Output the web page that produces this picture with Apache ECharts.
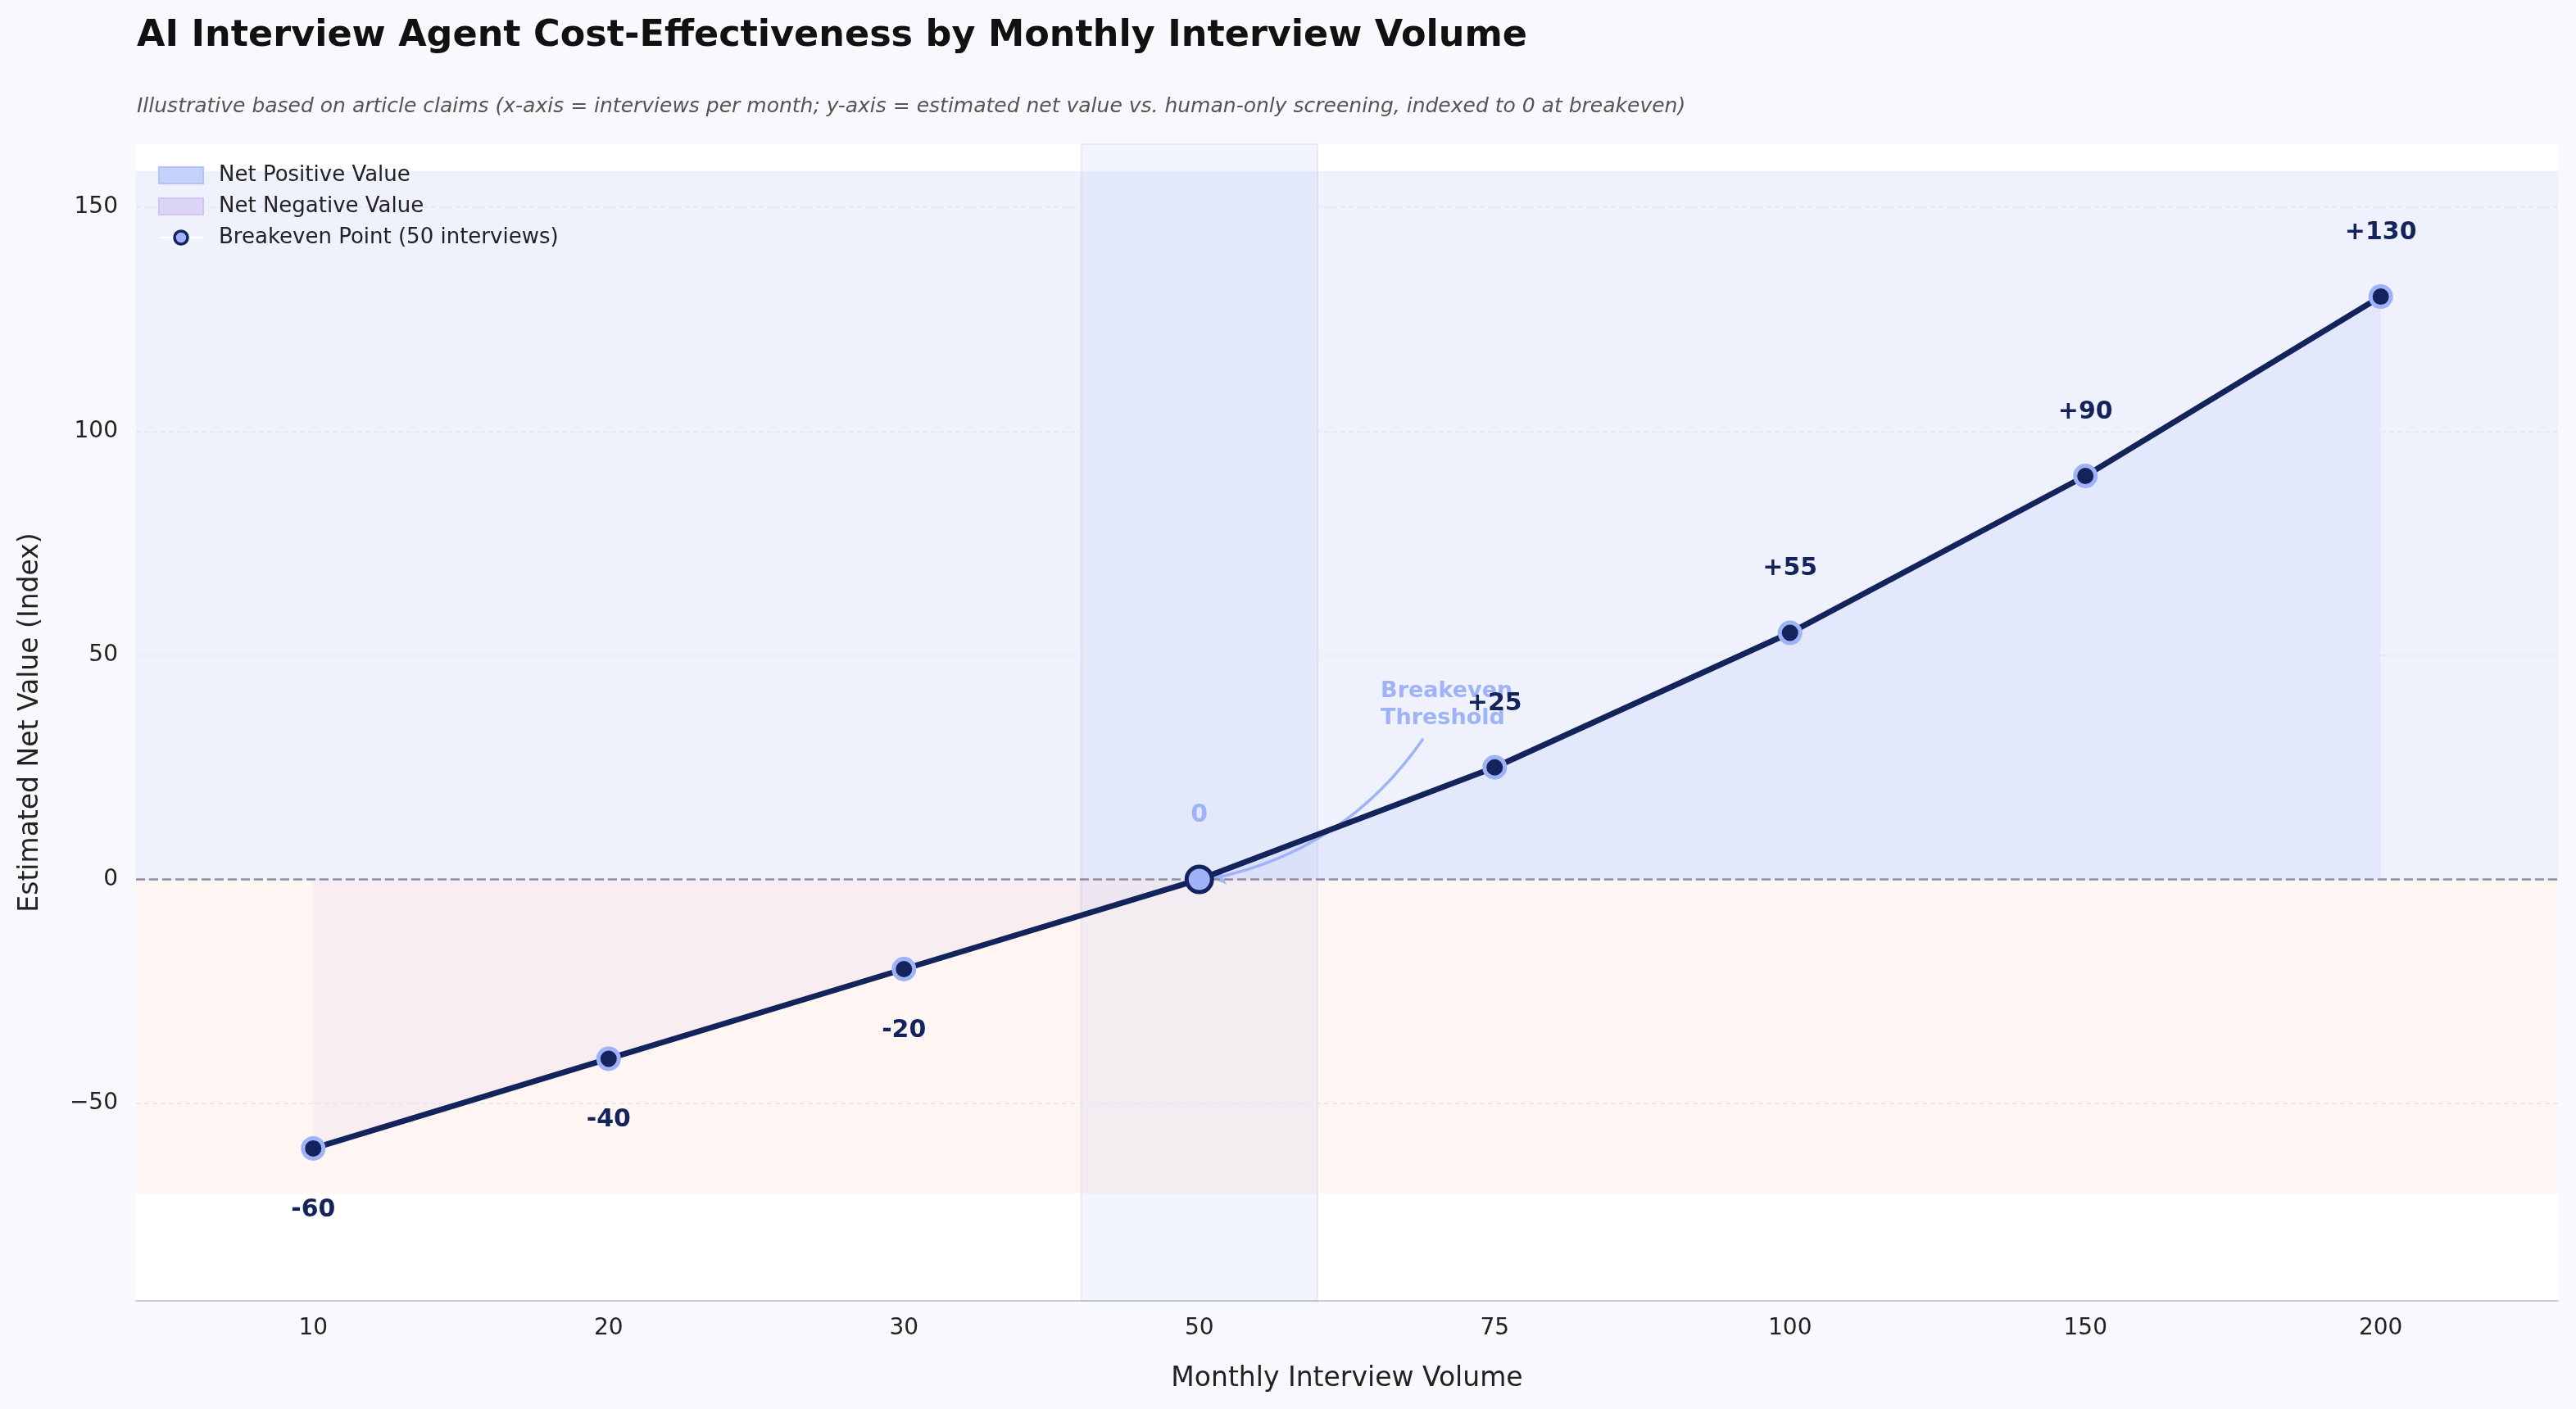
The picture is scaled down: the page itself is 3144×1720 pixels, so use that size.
<!DOCTYPE html>
<html lang="en">
<head>
    <meta charset="UTF-8">
    <title>AI Interview Agent Cost-Effectiveness</title>
    <script src="https://cdn.jsdelivr.net/npm/echarts@6.0.0/dist/echarts.min.js"></script>
    <style type="text/css">
        html, body { margin: 0; padding: 0; background: #f8f9fc; }
        #chartData { width: 3144px; height: 1720px; }
    </style>
</head>
<body>
<div id="chartData"></div>
<script type="text/javascript">
    // data
    var categories = ['10', '20', '30', '50', '75', '100', '150', '200'];
    var netValues = [-60, -40, -20, 0, 25, 55, 90, 130];
    var yTickValues = [-50, 0, 50, 100, 150];
    var breakevenIndex = 3;
    var positiveBand = [0, 158];
    var negativeBand = [-70, 0];
    var breakevenBand = [2.6, 3.4];
    // annotation: text anchor, arrow start, arrow end (x index, y value)
    var noteText = [3.614, 39];
    var noteArrowFrom = [3.758, 31.4];
    var noteArrowTo = [3.044, 0.2];

    var navy = '#13235b', light = '#a0b2f8', font = 'DejaVu Sans';

    function fmtValue(v) {
        if (v > 0) return '+' + v;
        return '' + v;
    }

    var xIdx = [], mainData = [], posData = [], negData = [];
    for (var i = 0; i < categories.length; i++) {
        xIdx.push(i);
        var v = netValues[i];
        mainData.push({
            value: [i, v],
            label: {
                show: i !== breakevenIndex,
                offset: [0, v >= 0 ? -78 : 75]
            }
        });
        if (i >= breakevenIndex) posData.push([i, v]);
        if (i <= breakevenIndex) negData.push([i, v]);
    }

    var myChart = echarts.init(document.getElementById('chartData'));

    var option = {
        animation: false,
        backgroundColor: '#f8f9fc',
        textStyle: { fontFamily: font },
        title: [
            {
                text: 'AI Interview Agent Cost-Effectiveness by Monthly Interview Volume',
                left: 162, top: 17,
                textStyle: { fontSize: 44.5, fontWeight: 'bold', color: '#111111', fontFamily: font }
            },
            {
                text: 'Illustrative based on article claims (x-axis = interviews per month; y-axis = estimated net value vs. human-only screening, indexed to 0 at breakeven)',
                left: 162, top: 113,
                textStyle: { fontSize: 25, fontWeight: 'normal', fontStyle: 'italic', color: '#555555', fontFamily: font }
            }
        ],
        legend: {
            orient: 'vertical',
            left: 188, top: 196,
            itemWidth: 54, itemHeight: 20, itemGap: 12,
            textStyle: { fontSize: 26, color: '#222222', fontFamily: font, padding: [0, 0, 0, 14] },
            data: [
                { name: 'Net Positive Value', icon: 'rect', itemStyle: { color: '#c6d1fb', borderColor: '#b4c3fa', borderWidth: 2 } },
                { name: 'Net Negative Value', icon: 'rect', itemStyle: { color: '#ddd5f6', borderColor: '#cfc6f3', borderWidth: 2 } },
                { name: 'Breakeven Point (50 interviews)', itemStyle: { borderWidth: 3.5 } }
            ]
        },
        grid: {
            left: 166, right: 22, top: 176, bottom: 132,
            outerBoundsMode: 'none',
            show: true, backgroundColor: '#ffffff', borderWidth: 0
        },
        xAxis: {
            type: 'value',
            min: -0.6, max: 7.6,
            name: 'Monthly Interview Volume',
            nameLocation: 'middle',
            nameGap: 79,
            nameTextStyle: { fontSize: 33, color: '#222222', fontFamily: font },
            axisLine: { show: true, onZero: false, lineStyle: { color: '#cccccc', width: 2 } },
            axisTick: { show: false },
            splitLine: { show: false },
            axisLabel: {
                customValues: xIdx,
                formatter: function (v) { return categories[Math.round(v)]; },
                fontSize: 28, color: '#222222', margin: 20
            }
        },
        yAxis: {
            type: 'value',
            min: -94, max: 164,
            splitNumber: 5,
            z: 3,
            name: 'Estimated Net Value (Index)',
            nameLocation: 'middle',
            nameGap: 112,
            nameTextStyle: { fontSize: 33, color: '#222222', fontFamily: font },
            axisLine: { show: false },
            axisTick: { show: false },
            axisLabel: {
                fontSize: 28, color: '#222222', margin: 22,
                formatter: function (v) {
                    if (yTickValues.indexOf(v) < 0) return '';
                    return ('' + v).replace('-', '\u2212');
                }
            },
            splitLine: {
                show: true, showMinLine: false, showMaxLine: false,
                lineStyle: { color: '#e2e6f4', width: 1.5, type: [6, 4] }
            }
        },
        series: [
            {
                // background bands
                type: 'line', data: [], z: 1, silent: true,
                markArea: {
                    silent: true,
                    data: [
                        [{ yAxis: positiveBand[0], itemStyle: { color: '#eff2fd' } }, { yAxis: positiveBand[1] }],
                        [{ yAxis: negativeBand[0], itemStyle: { color: '#fff6f3' } }, { yAxis: negativeBand[1] }]
                    ]
                }
            },
            {
                type: 'line', data: [], z: 1.5, silent: true,
                markArea: {
                    silent: true,
                    itemStyle: { color: 'rgba(150,162,232,0.11)', borderColor: 'rgba(150,162,232,0.18)', borderWidth: 2 },
                    data: [[{ xAxis: breakevenBand[0] }, { xAxis: breakevenBand[1] }]]
                }
            },
            {
                name: 'Net Negative Value',
                type: 'line', data: negData, z: 2, silent: true,
                symbol: 'none',
                color: '#ddd5f6',
                lineStyle: { width: 0 },
                areaStyle: { origin: 0, color: 'rgba(190,168,240,0.15)' }
            },
            {
                name: 'Net Positive Value',
                type: 'line', data: posData, z: 2, silent: true,
                symbol: 'none',
                color: '#c6d1fb',
                lineStyle: { width: 0 },
                areaStyle: { origin: 0, color: 'rgba(160,178,248,0.2)' }
            },
            {
                // zero reference line
                type: 'line', data: [], z: 4, silent: true,
                markLine: {
                    silent: true, symbol: 'none',
                    label: { show: false },
                    lineStyle: { color: '#8f8e9e', width: 2.5, type: [11, 5] },
                    data: [{ yAxis: 0 }]
                }
            },
            {
                // curved annotation arrow
                type: 'lines', coordinateSystem: 'cartesian2d', z: 4, silent: true,
                symbol: ['none', 'arrow'], symbolSize: 16,
                lineStyle: { color: light, width: 3.5, opacity: 1, curveness: 0.2 },
                data: [{ coords: [noteArrowFrom, noteArrowTo] }]
            },
            {
                name: 'Net Value',
                type: 'line', data: mainData, z: 5,
                symbol: 'circle', symbolSize: 25,
                lineStyle: { color: navy, width: 7 },
                itemStyle: { color: navy, borderColor: '#9fb1f7', borderWidth: 5 },
                label: {
                    show: true, position: 'inside',
                    formatter: function (p) { return fmtValue(p.value[1]); },
                    fontSize: 30, fontWeight: 'bold', color: navy, fontFamily: font
                }
            },
            {
                name: 'Breakeven Point (50 interviews)',
                type: 'line', z: 6,
                data: [[breakevenIndex, netValues[breakevenIndex]]],
                symbol: 'circle', symbolSize: 31,
                lineStyle: { color: '#ffffff', width: 4 },
                itemStyle: { color: light, borderColor: navy, borderWidth: 5 },
                label: {
                    show: true, position: 'inside', offset: [0, -78],
                    formatter: function (p) { return fmtValue(p.value[1]); },
                    fontSize: 30, fontWeight: 'bold', color: light, fontFamily: font
                },
                markPoint: {
                    silent: true,
                    symbol: 'circle', symbolSize: 0,
                    label: {
                        show: true, position: 'right', distance: 0,
                        formatter: 'Breakeven\nThreshold',
                        fontSize: 27, fontWeight: 'bold', lineHeight: 33,
                        color: light, fontFamily: font, align: 'left'
                    },
                    data: [{ coord: noteText }]
                }
            }
        ]
    };

    myChart.setOption(option);
</script>
</body>
</html>
